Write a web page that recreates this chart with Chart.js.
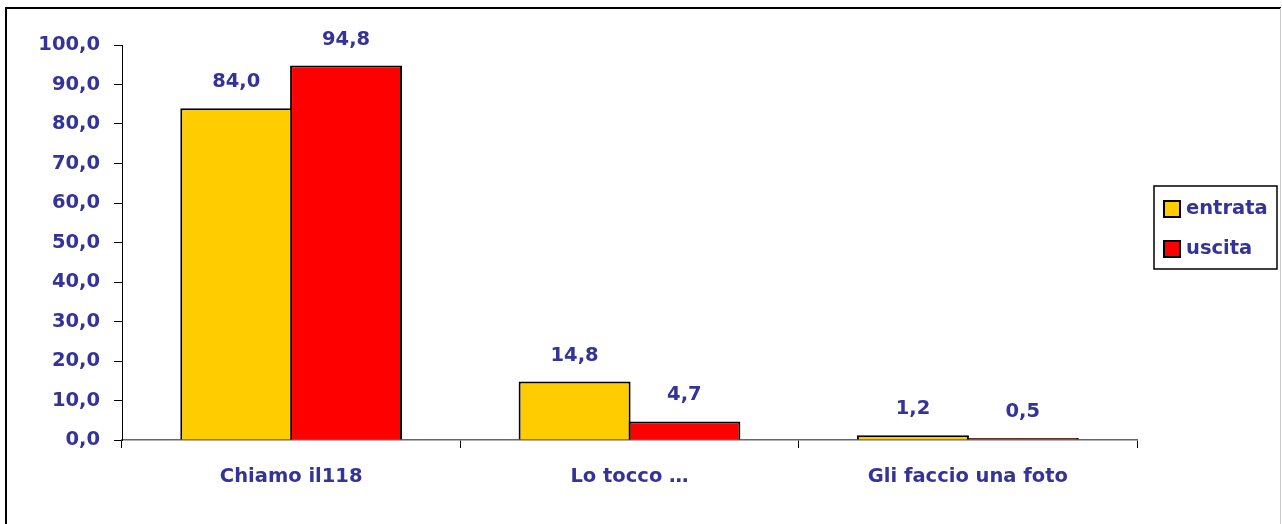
<!DOCTYPE html>
<html>
<head>
<meta charset="utf-8">
<script src="https://cdn.jsdelivr.net/npm/chart.js@4.4.0/dist/chart.umd.min.js"></script>
<style>
html,body{margin:0;padding:0;background:#fff;}
#wrap{width:1282px;height:524px;position:relative;}
</style>
</head>
<body>
<div id="wrap"><canvas id="c" width="1282" height="524"></canvas></div>
<script>
const categories = ["Chiamo il118", "Lo tocco \u2026", "Gli faccio una foto"];
const entrata = [84.0, 14.8, 1.2];
const uscita = [94.8, 4.7, 0.5];
const seriesNames = ["entrata", "uscita"];
const yTicks = [0, 10, 20, 30, 40, 50, 60, 70, 80, 90, 100];

const TEXT = "#333399";
const FAMILY = "'DejaVu Sans', sans-serif";
const FSIZE = 19.5;
const FONT = "bold " + FSIZE + "px " + FAMILY;
const fmt = v => v.toFixed(1).replace(".", ",");

const frame = {
  id: "frame",
  beforeDraw(chart) {
    const ctx = chart.ctx;
    ctx.save();
    ctx.fillStyle = "#fff";
    ctx.fillRect(0, 0, chart.width, chart.height);
    ctx.strokeStyle = "#000";
    ctx.lineWidth = 2;
    ctx.beginPath();
    ctx.moveTo(6, 524); ctx.lineTo(6, 8); ctx.lineTo(1281, 8);
    ctx.stroke();
    ctx.strokeStyle = "#c8c8c8";
    ctx.lineWidth = 1;
    ctx.beginPath();
    ctx.moveTo(1280.5, 8); ctx.lineTo(1280.5, 524);
    ctx.stroke();
    ctx.restore();
  }
};

const valueLabels = {
  id: "valueLabels",
  afterDatasetsDraw(chart) {
    const ctx = chart.ctx;
    ctx.save();
    ctx.fillStyle = TEXT;
    ctx.font = FONT;
    ctx.textAlign = "center";
    ctx.textBaseline = "middle";
    chart.data.datasets.forEach((ds, i) => {
      chart.getDatasetMeta(i).data.forEach((bar, j) => {
        ctx.fillText(fmt(ds.data[j]), bar.x, bar.y - 26);
      });
    });
    ctx.restore();
  }
};

const boxLegend = {
  id: "boxLegend",
  afterDraw(chart) {
    const ctx = chart.ctx;
    ctx.save();
    ctx.strokeStyle = "#000";
    ctx.lineWidth = 1.5;
    ctx.strokeRect(1154, 186, 123, 83);
    ctx.font = FONT;
    ctx.textBaseline = "middle";
    ctx.textAlign = "left";
    chart.data.datasets.forEach((ds, i) => {
      const cy = 209 + i * 40;
      ctx.fillStyle = ds.backgroundColor;
      ctx.fillRect(1164, cy - 8, 16, 16);
      ctx.strokeStyle = "#000";
      ctx.lineWidth = 2;
      ctx.strokeRect(1164, cy - 8, 16, 16);
      ctx.fillStyle = TEXT;
      ctx.fillText(ds.label, 1186, cy);
    });
    ctx.restore();
  }
};

new Chart(document.getElementById("c"), {
  type: "bar",
  data: {
    labels: categories,
    datasets: [
      { label: seriesNames[0], data: entrata, backgroundColor: "#FFCC00", borderColor: "#000", borderWidth: 2 },
      { label: seriesNames[1], data: uscita, backgroundColor: "#FF0000", borderColor: "#000", borderWidth: 2 }
    ]
  },
  options: {
    responsive: false,
    animation: false,
    devicePixelRatio: 1,
    layout: { padding: { left: 0, right: 145, top: 45, bottom: 0 } },
    datasets: { bar: { categoryPercentage: 0.649, barPercentage: 1.02 } },
    plugins: { legend: { display: false }, tooltip: { enabled: false } },
    scales: {
      x: {
        grid: { offset: true, drawOnChartArea: false, drawTicks: true, tickLength: 8, color: "#000", lineWidth: 1 },
        border: { color: "#666", width: 1.5 },
        ticks: { color: TEXT, font: { family: FAMILY, size: FSIZE, weight: "bold" }, padding: 17, maxRotation: 0 },
        afterFit(s) { s.height = 84; }
      },
      y: {
        min: 0, max: 100,
        afterBuildTicks(s) { s.ticks = yTicks.map(v => ({ value: v })); },
        grid: { drawOnChartArea: false, drawTicks: true, tickLength: 8, color: "#000", lineWidth: 1 },
        border: { color: "#000", width: 1 },
        ticks: { color: TEXT, font: { family: FAMILY, size: FSIZE, weight: "bold" }, padding: 14, callback: v => fmt(v) },
        afterFit(s) { s.width = 122; }
      }
    }
  },
  plugins: [frame, valueLabels, boxLegend]
});
</script>
</body>
</html>
